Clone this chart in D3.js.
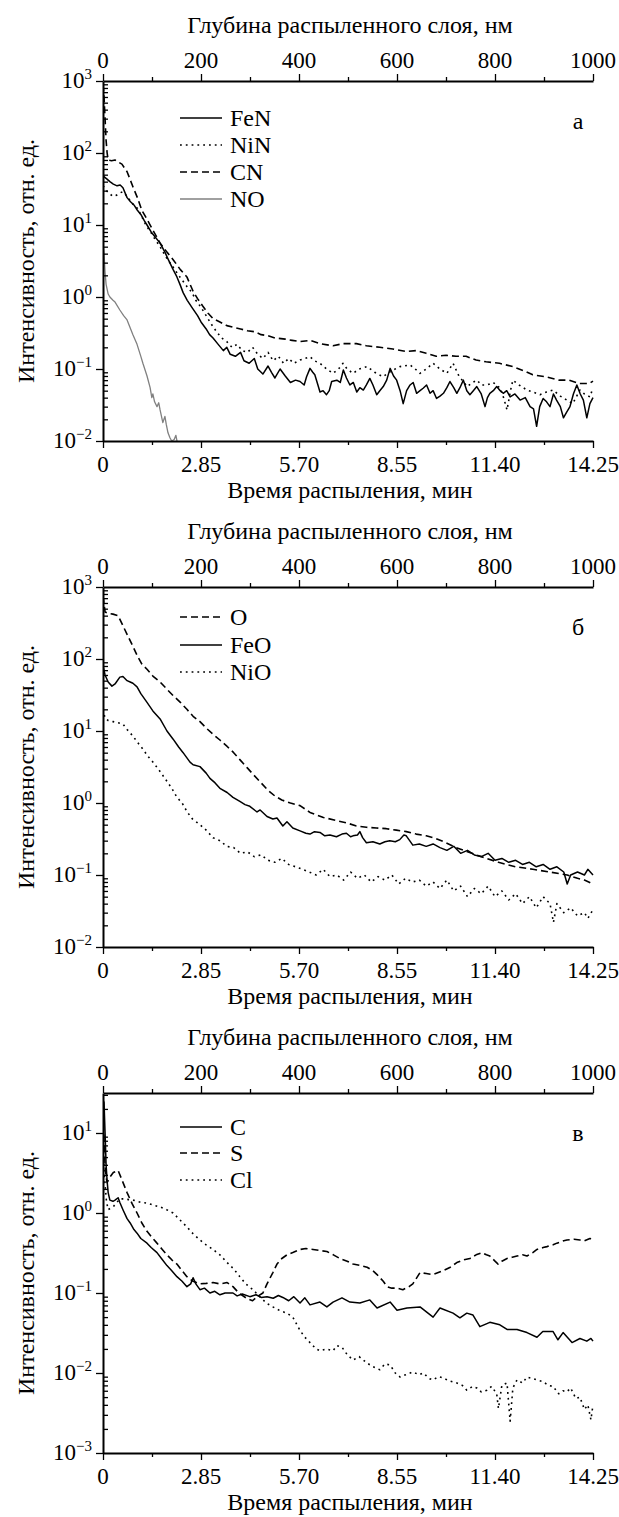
<!DOCTYPE html>
<html><head><meta charset="utf-8">
<script src="https://cdn.jsdelivr.net/npm/d3@7"></script>
<style>
html,body{margin:0;padding:0;background:#fff;}
svg{display:block;}
text{font-family:"Liberation Serif","Times New Roman","DejaVu Serif",serif;fill:#000;}
</style></head>
<body><svg id="chart" width="619" height="1517"></svg>
<script>
// ---------- axis ticks ----------
const timeTicks = [0, 2.85, 5.70, 8.55, 11.40, 14.25];
const timeLabels = ["0", "2.85", "5.70", "8.55", "11.40", "14.25"];
const timeMinor = [1.425, 4.275, 7.125, 9.975, 12.825];
const depthTicks = [0, 200, 400, 600, 800, 1000];
const depthMinor = [100, 300, 500, 700, 900];
const panelLetters = ["а", "б", "в"];
const xTitle = "Время распыления, мин";
const topTitle = "Глубина распыленного слоя, нм";
const yTitle = "Интенсивность, отн. ед.";

// ---------- panel а ----------
const feN = [[0,48],[0.1,44],[0.2,40],[0.3,37],[0.41,35],[0.5,36],[0.58,33],[0.7,24],[0.8,21],[0.9,19],[1.0,16],[1.1,14],[1.2,11.5],[1.28,10],[1.4,8],[1.5,7],[1.66,5.6],[1.8,4.2],[1.9,3.3],[2.04,2.4],[2.15,1.9],[2.25,1.45],[2.33,1.15],[2.45,0.9],[2.6,0.7],[2.75,0.55],[2.85,0.45],[3.0,0.36],[3.1,0.3],[3.2,0.27],[3.35,0.22],[3.5,0.18],[3.6,0.2],[3.7,0.16],[3.85,0.15],[4.0,0.17],[4.1,0.13],[4.25,0.12],[4.4,0.14],[4.5,0.1],[4.65,0.085],[4.8,0.11],[4.9,0.09],[5.0,0.075],[5.15,0.1],[5.3,0.08],[5.45,0.065],[5.6,0.07],[5.73,0.067],[5.85,0.06],[5.92,0.078],[6.02,0.102],[6.1,0.09],[6.16,0.083],[6.25,0.06],[6.31,0.048],[6.4,0.05],[6.5,0.044],[6.58,0.05],[6.65,0.067],[6.8,0.07],[6.9,0.065],[6.99,0.097],[7.08,0.075],[7.18,0.06],[7.28,0.065],[7.38,0.048],[7.47,0.055],[7.57,0.051],[7.66,0.06],[7.76,0.074],[7.85,0.06],[7.96,0.044],[8.05,0.05],[8.15,0.057],[8.25,0.07],[8.35,0.102],[8.45,0.08],[8.54,0.07],[8.64,0.05],[8.73,0.033],[8.83,0.05],[8.93,0.06],[9.02,0.065],[9.12,0.046],[9.22,0.05],[9.31,0.054],[9.41,0.06],[9.51,0.046],[9.6,0.05],[9.7,0.039],[9.8,0.042],[9.9,0.046],[10.0,0.055],[10.09,0.067],[10.2,0.055],[10.29,0.046],[10.38,0.055],[10.48,0.07],[10.58,0.05],[10.67,0.044],[10.77,0.05],[10.87,0.057],[11.0,0.045],[11.11,0.03],[11.18,0.04],[11.25,0.046],[11.35,0.05],[11.45,0.057],[11.55,0.05],[11.64,0.046],[11.74,0.05],[11.84,0.041],[11.98,0.045],[12.13,0.037],[12.28,0.04],[12.42,0.03],[12.52,0.028],[12.61,0.016],[12.7,0.03],[12.8,0.039],[12.9,0.035],[13.0,0.03],[13.1,0.045],[13.19,0.037],[13.3,0.03],[13.39,0.021],[13.48,0.025],[13.58,0.03],[13.68,0.045],[13.78,0.06],[13.88,0.045],[13.97,0.037],[14.07,0.021],[14.16,0.033],[14.25,0.04]];
const niN = [[0,35],[0.1,30],[0.2,27],[0.29,25],[0.4,26],[0.5,28],[0.58,29],[0.7,25],[0.85,20],[1.0,17],[1.1,14],[1.2,11],[1.28,9.4],[1.4,7.8],[1.5,6.5],[1.66,5],[1.8,3.8],[1.9,3.2],[2.04,2.6],[2.2,2.0],[2.44,1.4],[2.59,1.15],[2.7,0.9],[2.85,0.72],[3.0,0.55],[3.15,0.42],[3.3,0.33],[3.45,0.27],[3.6,0.24],[3.75,0.2],[3.9,0.22],[4.05,0.18],[4.2,0.17],[4.35,0.2],[4.5,0.16],[4.65,0.14],[4.8,0.17],[4.95,0.13],[5.1,0.15],[5.25,0.12],[5.4,0.14],[5.55,0.12],[5.73,0.133],[6.02,0.148],[6.15,0.13],[6.31,0.12],[6.5,0.1],[6.69,0.087],[6.85,0.1],[6.98,0.12],[7.1,0.1],[7.27,0.087],[7.45,0.1],[7.68,0.108],[7.9,0.09],[8.14,0.078],[8.4,0.095],[8.64,0.108],[8.93,0.114],[9.08,0.1],[9.22,0.087],[9.4,0.1],[9.6,0.12],[9.8,0.1],[10.0,0.087],[10.18,0.12],[10.35,0.08],[10.59,0.057],[10.75,0.065],[10.88,0.07],[11.0,0.06],[11.17,0.06],[11.35,0.065],[11.55,0.054],[11.65,0.04],[11.75,0.027],[11.85,0.05],[11.92,0.07],[12.1,0.06],[12.33,0.051],[12.5,0.048],[12.71,0.044],[12.9,0.048],[13.09,0.051],[13.3,0.042],[13.49,0.037],[13.66,0.033],[13.87,0.051],[14.0,0.045],[14.16,0.041],[14.25,0.055]];
const cN = [[0,900],[0.03,600],[0.06,300],[0.09,150],[0.12,100],[0.15,80],[0.25,78],[0.35,80],[0.44,75],[0.55,70],[0.7,55],[0.87,34],[1.0,24],[1.13,16],[1.28,12],[1.45,8.5],[1.66,5.6],[1.86,4.2],[2.04,3.3],[2.25,2.4],[2.44,1.9],[2.62,1.2],[2.75,0.95],[2.9,0.75],[3.05,0.6],[3.2,0.5],[3.4,0.45],[3.6,0.4],[3.8,0.38],[4.0,0.36],[4.2,0.34],[4.4,0.33],[4.6,0.3],[4.8,0.29],[5.0,0.27],[5.3,0.26],[5.5,0.25],[5.73,0.24],[6.02,0.25],[6.31,0.225],[6.69,0.21],[6.98,0.225],[7.37,0.225],[7.66,0.21],[8.05,0.2],[8.43,0.19],[8.82,0.175],[9.11,0.18],[9.4,0.165],[9.69,0.15],[9.98,0.155],[10.27,0.15],[10.56,0.15],[10.85,0.133],[11.14,0.126],[11.53,0.12],[11.92,0.108],[12.3,0.092],[12.5,0.083],[12.88,0.078],[13.27,0.07],[13.56,0.07],[13.85,0.063],[14.14,0.063],[14.25,0.068]];
const nO = [[0,5.5],[0.03,4],[0.06,2.2],[0.09,1.5],[0.15,1.1],[0.2,1.0],[0.29,0.9],[0.35,0.85],[0.49,0.66],[0.6,0.55],[0.7,0.48],[0.87,0.3],[0.99,0.22],[1.1,0.15],[1.16,0.12],[1.28,0.08],[1.37,0.055],[1.42,0.04],[1.45,0.045],[1.5,0.035],[1.57,0.03],[1.62,0.034],[1.66,0.027],[1.74,0.018],[1.8,0.022],[1.84,0.017],[1.89,0.013],[1.95,0.011],[2.0,0.01],[2.07,0.0105],[2.12,0.012],[2.17,0.009]];

// ---------- panel б ----------
const oxy = [[0,750],[0.06,450],[0.15,430],[0.29,420],[0.44,400],[0.58,290],[0.7,220],[0.87,150],[1.0,110],[1.13,85],[1.28,72],[1.45,58],[1.66,48],[1.86,38],[2.04,31],[2.25,25],[2.44,20],[2.62,16],[2.82,13.5],[3.0,11],[3.2,9],[3.4,7.5],[3.61,6.1],[3.8,5],[3.98,4.0],[4.19,3.1],[4.4,2.4],[4.6,1.9],[4.8,1.5],[5.0,1.25],[5.2,1.1],[5.45,1.0],[5.73,0.92],[6.02,0.74],[6.41,0.63],[6.79,0.57],[7.08,0.53],[7.37,0.48],[7.66,0.46],[7.95,0.45],[8.24,0.44],[8.53,0.42],[8.82,0.4],[9.11,0.37],[9.4,0.35],[9.69,0.32],[9.98,0.28],[10.27,0.24],[10.6,0.21],[11.0,0.18],[11.5,0.15],[12.0,0.13],[12.5,0.12],[13.0,0.11],[13.5,0.1],[13.8,0.09],[14.0,0.085],[14.25,0.075]];
const feO = [[0,80],[0.06,60],[0.15,48],[0.26,42],[0.35,45],[0.49,56],[0.58,57],[0.7,50],[0.79,48],[0.87,46],[0.99,41],[1.1,33],[1.28,25],[1.45,19],[1.66,14.7],[1.86,10],[2.04,7.7],[2.2,6],[2.33,5],[2.53,3.7],[2.62,3.4],[2.82,3.2],[3.0,2.6],[3.11,2.2],[3.26,1.9],[3.4,1.6],[3.61,1.4],[3.78,1.2],[3.98,1.05],[4.13,0.95],[4.27,0.9],[4.48,0.75],[4.57,0.8],[4.77,0.65],[4.94,0.6],[5.06,0.62],[5.23,0.48],[5.35,0.55],[5.52,0.45],[5.73,0.41],[5.9,0.38],[6.02,0.37],[6.15,0.4],[6.31,0.39],[6.45,0.35],[6.6,0.36],[6.79,0.34],[6.95,0.37],[7.08,0.38],[7.2,0.34],[7.27,0.35],[7.4,0.36],[7.47,0.4],[7.55,0.33],[7.66,0.28],[7.85,0.29],[8.05,0.27],[8.2,0.29],[8.34,0.3],[8.5,0.29],[8.63,0.31],[8.75,0.36],[8.82,0.35],[9.01,0.26],[9.2,0.27],[9.4,0.25],[9.6,0.27],[9.8,0.24],[10.0,0.22],[10.2,0.25],[10.4,0.2],[10.6,0.22],[10.8,0.19],[11.0,0.18],[11.2,0.2],[11.4,0.16],[11.6,0.17],[11.8,0.15],[12.0,0.16],[12.2,0.14],[12.4,0.15],[12.6,0.13],[12.8,0.14],[13.0,0.12],[13.2,0.13],[13.4,0.11],[13.5,0.075],[13.6,0.1],[13.8,0.11],[14.0,0.1],[14.1,0.12],[14.25,0.1]];
const niO = [[0,20],[0.06,15],[0.15,14],[0.29,13.5],[0.44,13],[0.58,12.5],[0.7,10.5],[0.87,8.5],[1.0,7],[1.16,5.6],[1.3,4.5],[1.45,3.7],[1.6,3.0],[1.8,2.2],[2.0,1.6],[2.15,1.2],[2.3,1.0],[2.45,0.75],[2.6,0.6],[2.82,0.5],[3.0,0.42],[3.2,0.33],[3.4,0.3],[3.6,0.25],[3.8,0.24],[4.0,0.2],[4.2,0.21],[4.4,0.18],[4.6,0.19],[4.8,0.16],[5.0,0.15],[5.2,0.17],[5.4,0.14],[5.6,0.13],[5.8,0.12],[6.0,0.11],[6.2,0.1],[6.4,0.12],[6.6,0.095],[6.8,0.1],[7.0,0.085],[7.2,0.11],[7.4,0.09],[7.6,0.1],[7.8,0.08],[8.0,0.095],[8.2,0.085],[8.4,0.1],[8.6,0.075],[8.8,0.09],[9.0,0.08],[9.2,0.085],[9.4,0.07],[9.6,0.08],[9.8,0.065],[10.0,0.085],[10.2,0.06],[10.4,0.07],[10.6,0.05],[10.8,0.065],[11.0,0.055],[11.2,0.07],[11.4,0.05],[11.6,0.06],[11.8,0.045],[12.0,0.055],[12.2,0.04],[12.4,0.05],[12.6,0.035],[12.8,0.05],[13.0,0.04],[13.1,0.022],[13.2,0.04],[13.4,0.03],[13.6,0.035],[13.8,0.027],[14.0,0.03],[14.1,0.025],[14.25,0.033]];

// ---------- panel в ----------
const carbon = [[0,26],[0.03,24],[0.06,10],[0.09,4],[0.12,2.5],[0.15,1.8],[0.2,1.45],[0.29,1.4],[0.35,1.45],[0.44,1.55],[0.49,1.35],[0.58,1.1],[0.7,0.85],[0.79,0.75],[0.9,0.62],[0.99,0.56],[1.1,0.48],[1.28,0.42],[1.4,0.37],[1.57,0.32],[1.7,0.27],[1.86,0.22],[2.0,0.19],[2.15,0.16],[2.3,0.14],[2.44,0.12],[2.55,0.13],[2.62,0.155],[2.7,0.13],[2.82,0.11],[2.95,0.115],[3.11,0.1],[3.25,0.105],[3.4,0.095],[3.55,0.1],[3.78,0.1],[3.9,0.092],[4.05,0.097],[4.27,0.09],[4.45,0.095],[4.6,0.088],[4.77,0.09],[4.95,0.086],[5.1,0.093],[5.23,0.088],[5.4,0.08],[5.55,0.09],[5.73,0.075],[5.87,0.087],[6.02,0.071],[6.31,0.077],[6.51,0.067],[6.69,0.077],[6.95,0.087],[7.18,0.077],[7.47,0.075],[7.76,0.082],[7.97,0.065],[8.35,0.077],[8.55,0.061],[8.84,0.065],[9.22,0.067],[9.6,0.05],[9.8,0.065],[10.18,0.056],[10.38,0.049],[10.58,0.056],[10.76,0.053],[10.96,0.038],[11.25,0.043],[11.54,0.04],[11.75,0.035],[12.04,0.035],[12.33,0.032],[12.62,0.028],[12.79,0.033],[13.09,0.033],[13.23,0.026],[13.38,0.032],[13.64,0.024],[13.87,0.027],[14.07,0.025],[14.19,0.027],[14.25,0.025]];
const sulfur = [[0,18],[0.03,8],[0.06,4],[0.09,2.8],[0.12,2.4],[0.2,2.8],[0.3,3.2],[0.44,3.4],[0.55,2.6],[0.7,1.8],[0.85,1.3],[0.99,1.0],[1.13,0.75],[1.28,0.59],[1.45,0.48],[1.57,0.42],[1.7,0.36],[1.86,0.3],[2.0,0.26],[2.15,0.23],[2.3,0.19],[2.44,0.16],[2.62,0.14],[2.82,0.13],[3.0,0.132],[3.2,0.135],[3.4,0.13],[3.61,0.135],[3.78,0.12],[3.95,0.1],[4.19,0.085],[4.35,0.08],[4.48,0.09],[4.65,0.1],[4.77,0.13],[4.94,0.18],[5.06,0.23],[5.2,0.27],[5.35,0.3],[5.52,0.32],[5.73,0.35],[5.9,0.36],[6.11,0.35],[6.3,0.34],[6.51,0.33],[6.7,0.3],[6.89,0.27],[7.1,0.25],[7.27,0.23],[7.5,0.22],[7.68,0.21],[7.85,0.19],[7.97,0.17],[8.15,0.14],[8.26,0.12],[8.4,0.115],[8.55,0.115],[8.72,0.11],[8.9,0.12],[9.01,0.13],[9.22,0.18],[9.4,0.175],[9.6,0.17],[9.89,0.19],[10.1,0.21],[10.29,0.24],[10.5,0.26],[10.67,0.27],[10.85,0.3],[11.02,0.32],[11.15,0.3],[11.25,0.29],[11.4,0.25],[11.49,0.23],[11.6,0.25],[11.75,0.27],[11.9,0.28],[12.04,0.29],[12.2,0.3],[12.33,0.29],[12.5,0.32],[12.62,0.35],[12.8,0.37],[12.91,0.38],[13.09,0.4],[13.2,0.42],[13.4,0.45],[13.49,0.46],[13.7,0.47],[13.87,0.46],[14.0,0.45],[14.16,0.48],[14.25,0.47]];
const chlorine = [[0,8],[0.03,3.5],[0.06,2.3],[0.1,1.4],[0.15,1.1],[0.22,1.15],[0.3,1.2],[0.4,1.35],[0.49,1.5],[0.6,1.5],[0.75,1.47],[0.87,1.45],[1.0,1.4],[1.13,1.35],[1.28,1.33],[1.45,1.26],[1.66,1.19],[1.85,1.1],[2.04,1.0],[2.2,0.85],[2.44,0.67],[2.62,0.55],[2.82,0.46],[3.0,0.4],[3.2,0.35],[3.4,0.3],[3.61,0.24],[3.8,0.2],[3.98,0.16],[4.15,0.13],[4.36,0.11],[4.57,0.089],[4.75,0.075],[4.94,0.067],[5.15,0.06],[5.35,0.056],[5.52,0.05],[5.73,0.034],[5.87,0.028],[6.02,0.024],[6.2,0.02],[6.31,0.019],[6.5,0.02],[6.69,0.019],[6.8,0.022],[6.95,0.021],[7.1,0.017],[7.27,0.0145],[7.45,0.016],[7.68,0.0133],[7.85,0.012],[8.05,0.011],[8.2,0.013],[8.35,0.0126],[8.5,0.01],[8.64,0.0089],[8.8,0.0095],[9.01,0.0103],[9.2,0.0095],[9.31,0.01],[9.5,0.0085],[9.6,0.0082],[9.75,0.009],[9.89,0.0087],[10.05,0.008],[10.29,0.0075],[10.45,0.007],[10.58,0.0061],[10.75,0.0068],[10.87,0.0065],[11.0,0.0058],[11.17,0.0061],[11.3,0.0068],[11.45,0.0055],[11.5,0.0036],[11.6,0.007],[11.75,0.0075],[11.84,0.0025],[11.92,0.0065],[12.04,0.0082],[12.2,0.0075],[12.33,0.0089],[12.5,0.0085],[12.62,0.0082],[12.8,0.0078],[12.95,0.007],[13.09,0.0068],[13.25,0.0055],[13.38,0.006],[13.49,0.0058],[13.6,0.0065],[13.75,0.0048],[13.87,0.005],[14.0,0.0035],[14.1,0.004],[14.19,0.0026],[14.25,0.004]];

// ---------- drawing ----------
const svg = d3.select("#chart");
svg.append("rect").attr("width",619).attr("height",1517).attr("fill","#fff");
const X0 = 103, X1 = 593, PH = 360;
const FONT_TICK = 23, FONT_TITLE = 24;
const FF = "'Liberation Serif','Times New Roman','DejaVu Serif',serif";

const styles = {
  solid:  {dash:null, color:"#000", width:1.5},
  dotted: {dash:"1.8,4", color:"#000", width:1.6},
  dashed: {dash:"7,4", color:"#000", width:1.6},
  gray:   {dash:null, color:"#808080", width:1.3}
};

const panels = [
  {top:81, yMin:-2, yMax:3, letter:panelLetters[0], legendOff:[37,64,91,118],
   series:[{name:"FeN",data:feN,style:"solid"},{name:"NiN",data:niN,style:"dotted"},{name:"CN",data:cN,style:"dashed"},{name:"NO",data:nO,style:"gray"}]},
  {top:587, yMin:-2, yMax:3, letter:panelLetters[1], legendOff:[30,58,85],
   series:[{name:"O",data:oxy,style:"dashed"},{name:"FeO",data:feO,style:"solid"},{name:"NiO",data:niO,style:"dotted"}]},
  {top:1093, yMin:-3, yMax:1.5, letter:panelLetters[2], legendOff:[34,60,87],
   series:[{name:"C",data:carbon,style:"solid"},{name:"S",data:sulfur,style:"dashed"},{name:"Cl",data:chlorine,style:"dotted"}]}
];

function txt(g, x, y, s, size, anchor) {
  return g.append("text").attr("x",x).attr("y",y).attr("text-anchor",anchor||"middle")
    .attr("font-family",FF).attr("font-size",size).text(s);
}

panels.forEach((p, pi) => {
  const top = p.top, bot = top + PH;
  const x = d3.scaleLinear().domain([0, 14.25]).range([X0, X1]);
  const xd = d3.scaleLinear().domain([0, 1000]).range([X0, X1]);
  const y = d3.scaleLog().domain([Math.pow(10,p.yMin), Math.pow(10,p.yMax)]).range([bot, top]);
  const g = svg.append("g");

  const cid = "clip"+pi;
  svg.append("defs").append("clipPath").attr("id",cid).append("rect")
     .attr("x",X0).attr("y",top).attr("width",X1-X0+2).attr("height",PH);

  const line = d3.line().x(d=>x(d[0])).y(d=>y(d[1]));
  const dg = g.append("g").attr("clip-path","url(#"+cid+")");
  p.series.forEach(s => {
    const st = styles[s.style];
    dg.append("path").datum(s.data).attr("d",line).attr("fill","none")
      .attr("stroke",st.color).attr("stroke-width",st.width)
      .attr("stroke-dasharray",st.dash).attr("stroke-linejoin","round");
  });

  // bottom axis
  g.append("g").attr("transform",`translate(0,${bot})`)
   .call(d3.axisBottom(x).tickValues(timeTicks).tickSize(7).tickSizeOuter(0).tickFormat(()=>""));
  g.append("g").attr("transform",`translate(0,${bot})`)
   .call(d3.axisBottom(x).tickValues(timeMinor).tickSize(4).tickSizeOuter(0).tickFormat(()=>""))
   .select(".domain").remove();
  timeTicks.forEach((t,i)=> txt(g, x(t), bot+31, timeLabels[i], FONT_TICK));
  txt(g, (X0+X1)/2 + 2, bot+57, xTitle, FONT_TITLE);

  // top axis
  g.append("g").attr("transform",`translate(0,${top})`)
   .call(d3.axisTop(xd).tickValues(depthTicks).tickSize(7).tickSizeOuter(0).tickFormat(()=>""));
  g.append("g").attr("transform",`translate(0,${top})`)
   .call(d3.axisTop(xd).tickValues(depthMinor).tickSize(4).tickSizeOuter(0).tickFormat(()=>""))
   .select(".domain").remove();
  depthTicks.forEach(t=> txt(g, xd(t), top-13, String(t), FONT_TICK));
  txt(g, (X0+X1)/2 + 2, top-48, topTitle, FONT_TITLE);

  // left axis
  const majors = d3.range(Math.ceil(p.yMin), Math.floor(p.yMax)+1).map(k=>Math.pow(10,k));
  const minors = [];
  for (let k=Math.floor(p.yMin); k<=Math.floor(p.yMax); k++) {
    for (let m=2; m<=9; m++) { const v=m*Math.pow(10,k); if (Math.log10(v)<p.yMax-1e-9 && Math.log10(v)>p.yMin) minors.push(v); }
  }
  g.append("g").attr("transform",`translate(${X0},0)`)
   .call(d3.axisLeft(y).tickValues(majors).tickSize(7).tickSizeOuter(0).tickFormat(()=>""));
  g.append("g").attr("transform",`translate(${X0},0)`)
   .call(d3.axisRight(y).tickValues(minors).tickSize(5).tickSizeOuter(0).tickFormat(()=>""))
   .select(".domain").remove();
  majors.forEach(v=>{
    const e = Math.round(Math.log10(v));
    const t = txt(g, 92, y(v)+7, "", FONT_TICK, "end");
    t.append("tspan").text("10");
    t.append("tspan").attr("font-size",15).attr("dy",-9).text(String(e).replace("-","\u2212"));
  });
  g.append("text").attr("transform",`translate(34,${top+PH/2}) rotate(-90)`)
   .attr("text-anchor","middle").attr("font-family",FF).attr("font-size",FONT_TITLE).text(yTitle);

  // legend
  p.series.forEach((s,i)=>{
    const st = styles[s.style];
    const ly = top + p.legendOff[i];
    g.append("line").attr("x1",180).attr("x2",222).attr("y1",ly).attr("y2",ly)
     .attr("stroke",st.color).attr("stroke-width",st.width).attr("stroke-dasharray",st.dash);
    txt(g, 230, ly+8, s.name, FONT_TITLE, "start");
  });

  txt(g, 578, top+48, p.letter, FONT_TITLE);

  g.selectAll(".domain").attr("stroke","#000").attr("stroke-width",2);
  g.selectAll(".tick line").attr("stroke","#000").attr("stroke-width",1.3);
});
</script></body></html>
